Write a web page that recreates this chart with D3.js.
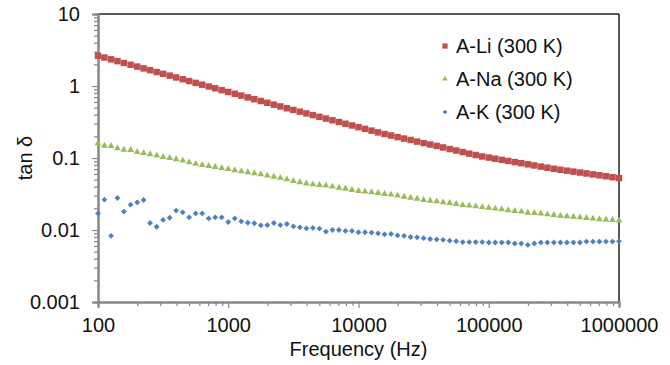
<!DOCTYPE html>
<html>
<head>
<meta charset="utf-8">
<script src="https://cdn.jsdelivr.net/npm/d3@7"></script>
<style>
  body { margin: 0; background: #fff; }
  svg { display: block; font-family: "Liberation Sans", Arial, sans-serif; }
</style>
</head>
<body>
<svg id="chart" width="670" height="365"></svg>
<script>
// frequency sweep, 20 points per decade
const freqs = [
  100, 112, 126, 141, 158, 178, 200, 224, 251, 282, 316, 355, 398, 447, 501, 562, 631, 708, 794, 891,
  1000, 1122, 1259, 1413, 1585, 1778, 1995, 2239, 2512, 2818, 3162, 3548, 3981, 4467, 5012, 5623, 6310, 7079, 7943, 8913,
  10000, 11220, 12589, 14125, 15849, 17783, 19953, 22387, 25119, 28184, 31623, 35481, 39811, 44668, 50119, 56234, 63096, 70795, 79433, 89125,
  100000, 112202, 125893, 141254, 158489, 177828, 199526, 223872, 251189, 281838, 316228, 354813, 398107, 446684, 501187, 562341, 630957, 707946, 794328, 891251,
  1000000
];

const seriesNames = ['A-Li (300 K)', 'A-Na (300 K)', 'A-K (300 K)'];

const tanLi = [
  2.635, 2.487, 2.347, 2.215, 2.090, 1.972, 1.861, 1.757, 1.658, 1.564, 1.476, 1.393, 1.315, 1.241, 1.171, 1.105, 1.043, 0.984, 0.929, 0.876,
  0.827, 0.780, 0.736, 0.695, 0.656, 0.619, 0.584, 0.551, 0.520, 0.491, 0.465, 0.440, 0.416, 0.394, 0.373, 0.353, 0.334, 0.316, 0.299, 0.283,
  0.268, 0.254, 0.240, 0.227, 0.215, 0.205, 0.195, 0.186, 0.178, 0.169, 0.161, 0.154, 0.147, 0.140, 0.133, 0.127, 0.121, 0.115, 0.110, 0.105,
  0.1013, 0.0977, 0.0943, 0.0910, 0.0878, 0.0847, 0.0817, 0.0788, 0.0760, 0.0733, 0.0708, 0.0687, 0.0667, 0.0647, 0.0628, 0.0610, 0.0592, 0.0575, 0.0558, 0.0541,
  0.0526
];

const tanNa = [
  0.160, 0.148, 0.147, 0.136, 0.130, 0.129, 0.121, 0.117, 0.113, 0.108, 0.103, 0.100, 0.096, 0.092, 0.087, 0.083, 0.080, 0.0775, 0.075, 0.0725,
  0.0700, 0.0675, 0.0653, 0.0633, 0.0613, 0.0593, 0.0570, 0.0550, 0.0530, 0.0505, 0.0480, 0.0460, 0.0443, 0.0431, 0.0422, 0.0413, 0.0400, 0.0387, 0.0375, 0.0360,
  0.0348, 0.0341, 0.0334, 0.0327, 0.0316, 0.0310, 0.0300, 0.0290, 0.0281, 0.0272, 0.0261, 0.0255, 0.0250, 0.0242, 0.0237, 0.0230, 0.0222, 0.0218, 0.0213, 0.0208,
  0.0204, 0.0198, 0.0194, 0.0188, 0.0184, 0.0180, 0.0174, 0.0172, 0.0169, 0.0165, 0.0162, 0.0158, 0.0155, 0.0153, 0.0150, 0.0147, 0.0144, 0.0141, 0.0139, 0.0138,
  0.0135
];

const tanK = [
  0.0170, 0.0264, 0.0083, 0.0278, 0.0180, 0.0225, 0.0242, 0.0261, 0.0125, 0.0111, 0.0138, 0.0148, 0.0186, 0.0176, 0.0150, 0.0170, 0.0170, 0.0145, 0.0150, 0.0150,
  0.0129, 0.0145, 0.0132, 0.0126, 0.0124, 0.0116, 0.0117, 0.0125, 0.0117, 0.0121, 0.01125, 0.0109, 0.01055, 0.0107, 0.01045, 0.0095, 0.0100, 0.0100, 0.0097, 0.0097,
  0.0093, 0.0093, 0.0092, 0.0090, 0.0087, 0.0088, 0.0084, 0.0083, 0.0080, 0.0079, 0.0077, 0.0075, 0.0074, 0.0073, 0.0071, 0.0070, 0.0068, 0.0068, 0.0068, 0.0068,
  0.0067, 0.0067, 0.0067, 0.0067, 0.0065, 0.0065, 0.0062, 0.0065, 0.0067, 0.0067, 0.0067, 0.0067, 0.0067, 0.0067, 0.0067, 0.0069, 0.0069, 0.0069, 0.0069, 0.0069,
  0.0070
];

const xTicks = [100, 1000, 10000, 100000, 1000000];
const yTicks = [0.001, 0.01, 0.1, 1, 10];
const yTickLabels = ['0.001', '0.01', '0.1', '1', '10'];

const margin = { top: 14, right: 51, bottom: 63, left: 98 };
const width = 670, height = 365;

const svg = d3.select('#chart');

const x = d3.scaleLog().domain([100, 1000000]).range([margin.left, width - margin.right]);
const y = d3.scaleLog().domain([0.001, 10]).range([height - margin.bottom, margin.top]);

// minor ticks 2..9 in each decade
const minorsOf = (lo, hi) => {
  const out = [];
  for (let p = lo; p < hi; p *= 10) for (let k = 2; k <= 9; k++) out.push(p * k);
  return out;
};

// Plot frame: top and right dark
svg.append('line')
  .attr('x1', margin.left).attr('x2', width - margin.right)
  .attr('y1', margin.top).attr('y2', margin.top)
  .attr('stroke', '#222').attr('stroke-width', 1.5);
svg.append('line')
  .attr('x1', width - margin.right).attr('x2', width - margin.right)
  .attr('y1', margin.top).attr('y2', height - margin.bottom)
  .attr('stroke', '#222').attr('stroke-width', 1.5);

// Y axis
const yAxisG = svg.append('g').attr('transform', `translate(${margin.left},0)`);
yAxisG.call(d3.axisLeft(y).tickValues(minorsOf(0.001, 10)).tickSize(4).tickFormat(''));
yAxisG.append('g').call(
  d3.axisLeft(y).tickValues(yTicks).tickSize(6).tickPadding(12)
    .tickFormat((d, i) => yTickLabels[i])
);

// X axis
const xAxisG = svg.append('g').attr('transform', `translate(0,${height - margin.bottom})`);
xAxisG.call(d3.axisBottom(x).tickValues(minorsOf(100, 1000000)).tickSize(4).tickFormat(''));
xAxisG.append('g').call(
  d3.axisBottom(x).tickValues(xTicks).tickSize(6).tickPadding(10).tickFormat(d3.format('d'))
);

svg.selectAll('.domain').attr('stroke', '#888').attr('stroke-width', 2);
svg.selectAll('.tick line').attr('stroke', '#888').attr('stroke-width', 1.2);
svg.selectAll('.tick text').attr('font-size', 20).attr('fill', '#111')
  .attr('font-family', '"Liberation Sans", Arial, sans-serif');

// Axis titles
svg.append('text')
  .attr('x', (margin.left + width - margin.right) / 2)
  .attr('y', 356)
  .attr('text-anchor', 'middle')
  .attr('font-size', 20).attr('fill', '#111')
  .text('Frequency (Hz)');

svg.append('text')
  .attr('transform', `translate(32,${(margin.top + height - margin.bottom) / 2}) rotate(-90)`)
  .attr('text-anchor', 'middle')
  .attr('font-size', 20).attr('fill', '#111')
  .text('tan δ');

// Series
const series = [
  { name: seriesNames[0], values: tanLi, color: '#C0504D', symbol: d3.symbolSquare, size: 42, rot: 0 },
  { name: seriesNames[1], values: tanNa, color: '#9BBB59', symbol: d3.symbolTriangle, size: 20, rot: 0 },
  { name: seriesNames[2], values: tanK, color: '#4F81BD', symbol: d3.symbolSquare, size: 17, rot: 45 },
];

series.forEach((s) => {
  svg.append('g')
    .selectAll('path')
    .data(freqs.map((f, i) => [f, s.values[i]]))
    .join('path')
    .attr('d', d3.symbol(s.symbol, s.size))
    .attr('transform', (d) => `translate(${x(d[0])},${y(d[1])}) rotate(${s.rot})`)
    .attr('fill', s.color);
});

// Legend
const legend = svg.append('g').attr('transform', 'translate(445,46)');
series.forEach((s, i) => {
  const row = legend.append('g').attr('transform', `translate(0,${i * 33})`);
  row.append('path')
    .attr('d', d3.symbol(s.symbol, s.size * 0.65))
    .attr('transform', `rotate(${s.rot})`)
    .attr('fill', s.color);
  row.append('text')
    .attr('x', 11).attr('y', 7)
    .attr('font-size', 20).attr('fill', '#111')
    .text(s.name);
});
</script>
</body>
</html>
